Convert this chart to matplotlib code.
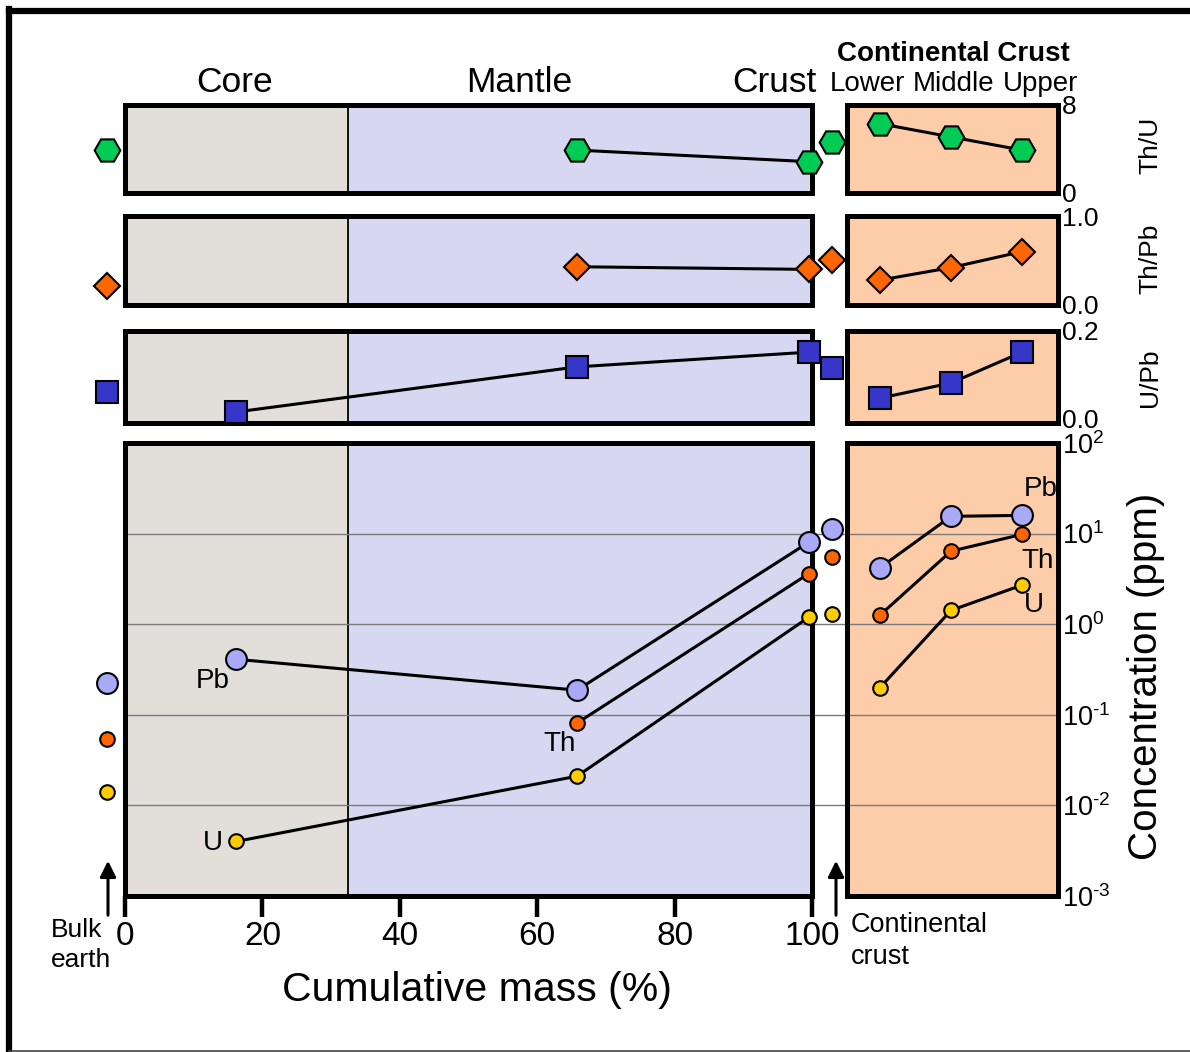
import matplotlib
matplotlib.use('Agg')
import matplotlib.pyplot as plt
import matplotlib.transforms as mtransforms
import numpy as np
from matplotlib.lines import Line2D
from matplotlib.ticker import NullLocator

plt.rcParams['font.family'] = ['Liberation Sans', 'DejaVu Sans']
plt.rcParams['mathtext.fontset'] = 'custom'
plt.rcParams['mathtext.rm'] = 'Liberation Sans'
plt.rcParams['mathtext.it'] = 'Liberation Sans:italic'

# cumulative mass positions (%): bulk earth, core, mantle, crust, continental crust
x_pos = [-2.6, 16.2, 65.8, 99.5, 102.9]
core_mantle = 32.5
layers = ['Lower', 'Middle', 'Upper']

nan = np.nan
# ratios (bulk earth, core, mantle, crust, continental crust)
th_u = [3.9, nan, 3.9, 2.85, 4.6]
th_u_layers = [6.3, 5.1, 3.9]
th_pb = [0.21, nan, 0.43, 0.40, 0.51]
th_pb_layers = [0.28, 0.42, 0.60]
u_pb = [0.067, 0.024, 0.122, 0.154, 0.12]
u_pb_layers = [0.054, 0.087, 0.154]

# concentrations in ppm
pb = [0.223, 0.41, 0.187, 8.0, 11.1]
pb_layers = [4.2, 15.5, 15.9]
th = [0.054, nan, 0.081, 3.6, 5.5]
th_layers = [1.26, 6.4, 9.8]
u = [0.014, 0.004, 0.021, 1.19, 1.29]
u_layers = [0.20, 1.42, 2.7]

W, H = 1190, 1052
def fx(x):
    return x / W
def fy(y):
    return 1 - y / H

c_core = '#e2deda'
c_mantle = '#d7d7f1'
c_cc = '#fdcca8'
spine_w = 3.6

fig = plt.figure(figsize=(W / 100, H / 100), dpi=100)

def make_axes(top, bottom, left_x0=125, left_x1=812, right_x0=847, right_x1=1058):
    a1 = fig.add_axes([fx(left_x0), fy(bottom), (left_x1 - left_x0) / W, (bottom - top) / H])
    a2 = fig.add_axes([fx(right_x0), fy(bottom), (right_x1 - right_x0) / W, (bottom - top) / H])
    for a in (a1, a2):
        for s in a.spines.values():
            s.set_linewidth(spine_w)
            s.set_zorder(6)
    a1.set_xlim(0, 100)
    a1.axvspan(0, core_mantle, color=c_core, zorder=0)
    a1.axvspan(core_mantle, 100, color=c_mantle, zorder=0)
    a1.axvline(core_mantle, color='k', lw=1.3, zorder=1)
    a2.set_facecolor(c_cc)
    a2.set_xlim(-0.465, 2.507)
    a2.set_xticks([])
    a1.set_yticks([])
    a1.set_xticks([])
    a2.yaxis.tick_right()
    a2.tick_params(axis='y', length=0, pad=3, labelsize=19)
    return a1, a2

def draw_series(a1, a2, vals, layer_vals, marker, size, face, line_idx):
    xs = [x_pos[i] for i in line_idx]
    ys = [vals[i] for i in line_idx]
    a1.plot(xs, ys, color='k', lw=2.2, zorder=3, clip_on=False)
    for xv, yv in zip(x_pos, vals):
        if np.isnan(yv):
            continue
        a1.plot(xv, yv, marker=marker, ms=size, mfc=face, mec='k', mew=1.5,
                ls='none', zorder=7, clip_on=False)
    a2.plot(range(3), layer_vals, color='k', lw=2.2, marker=marker, ms=size,
            mfc=face, mec='k', mew=1.5, zorder=7, clip_on=False)

green = '#00cc55'
orange = '#ff6600'
blue = '#3636c8'
lav = '#a8aaf8'
yellow = '#ffcc00'

# Th/U
ax1, ax1r = make_axes(105, 193)
ax1.set_ylim(0, 8)
ax1r.set_ylim(0, 8)
ax1r.set_yticks([0, 8])
ax1r.set_yticklabels(['0', '8'])
draw_series(ax1, ax1r, th_u, th_u_layers, 'H', 18.5, green, [2, 3])

# Th/Pb
ax2, ax2r = make_axes(216, 305)
ax2.set_ylim(0, 1)
ax2r.set_ylim(0, 1)
ax2r.set_yticks([0, 1])
ax2r.set_yticklabels(['0.0', '1.0'])
draw_series(ax2, ax2r, th_pb, th_pb_layers, 'D', 13.5, orange, [2, 3])

# U/Pb
ax3, ax3r = make_axes(331, 423)
ax3.set_ylim(0, 0.2)
ax3r.set_ylim(0, 0.2)
ax3r.set_yticks([0, 0.2])
ax3r.set_yticklabels(['0.0', '0.2'])
draw_series(ax3, ax3r, u_pb, u_pb_layers, 's', 15.5, blue, [1, 2, 3])
# lift the lower label a little so it clears the 10^2 below
lbl = ax3r.get_yticklabels()[0]
lbl.set_transform(lbl.get_transform() + mtransforms.ScaledTranslation(0, 3 / 72, fig.dpi_scale_trans))

# concentrations
ax, axr = make_axes(443, 896)
for a in (ax, axr):
    a.set_yscale('log')
    a.set_ylim(1e-3, 1e2)
    a.yaxis.set_minor_locator(NullLocator())
ax.set_yticks([])
decades = [-3, -2, -1, 0, 1, 2]
axr.set_yticks([10.0 ** d for d in decades])
axr.set_yticklabels([r'$\mathregular{10^{\text{%d}}}$' % d for d in decades])
axr.tick_params(axis='y', length=0, pad=3, labelsize=19.5)
for d in [-2, -1, 0, 1]:
    ax.plot([0, 105.4], [10.0 ** d] * 2, color='#7a7a7a', lw=1.0, zorder=2, clip_on=False)
    axr.axhline(10.0 ** d, color='#7a7a7a', lw=1.0, zorder=2)

draw_series(ax, axr, pb, pb_layers, 'o', 15, lav, [1, 2, 3])
draw_series(ax, axr, th, th_layers, 'o', 10.5, orange, [2, 3])
draw_series(ax, axr, u, u_layers, 'o', 10.5, yellow, [1, 2, 3])

ax.set_xticks([0, 20, 40, 60, 80, 100])
ax.tick_params(axis='x', direction='out', length=15, width=3.2, labelsize=24, pad=3)

# element labels
for txt, x, y in [('Pb', 213, 681), ('Th', 560, 744), ('U', 213, 843),
                  ('Pb', 1041, 489), ('Th', 1038, 561), ('U', 1034, 605)]:
    fig.text(fx(x), fy(y), txt, fontsize=20, ha='center', va='center')

# headings
fig.text(fx(235), fy(82), 'Core', fontsize=25.5, ha='center', va='center')
fig.text(fx(519), fy(82), 'Mantle', fontsize=25.5, ha='center', va='center')
fig.text(fx(774), fy(82), 'Crust', fontsize=25.5, ha='center', va='center')
fig.text(fx(953), fy(54), 'Continental Crust', fontsize=20, fontweight='bold',
         ha='center', va='center')
for name, x in zip(layers, [867, 954, 1041]):
    fig.text(fx(x), fy(84), name, fontsize=20, ha='center', va='center')

# axis titles on the right
fig.text(fx(1150), fy(145), 'Th/U', fontsize=19, rotation=90, ha='center', va='center')
fig.text(fx(1150), fy(259), 'Th/Pb', fontsize=19, rotation=90, ha='center', va='center')
fig.text(fx(1150), fy(378), 'U/Pb', fontsize=19, rotation=90, ha='center', va='center')
fig.text(fx(1146), fy(676), 'Concentration (ppm)', fontsize=29, rotation=90,
         ha='center', va='center')

fig.text(fx(477), fy(990), 'Cumulative mass (%)', fontsize=29.5, ha='center', va='center')

# arrows for bulk earth and continental crust
for x in (108, 836):
    ax.annotate('', xy=(fx(x), fy(858)), xytext=(fx(x), fy(918)),
                xycoords='figure fraction', textcoords='figure fraction',
                arrowprops=dict(arrowstyle='-|>', color='k', lw=2.2, mutation_scale=24))
fig.text(fx(51), fy(945), 'Bulk\nearth', fontsize=19, ha='left', va='center', linespacing=1.3)
fig.text(fx(851), fy(941), 'Continental\ncrust', fontsize=19.5, ha='left', va='center',
         linespacing=1.3)

# frame around the figure
fig.add_artist(Line2D([fx(8.5), 1], [fy(11), fy(11)], color='k', lw=4.5))
fig.add_artist(Line2D([fx(8.5), fx(8.5)], [fy(8.5), 0], color='k', lw=4.5))
fig.add_artist(Line2D([fx(8.5), 1], [fy(1050.5), fy(1050.5)], color='#444444', lw=1.2))

fig.savefig('out.png', dpi=100)
